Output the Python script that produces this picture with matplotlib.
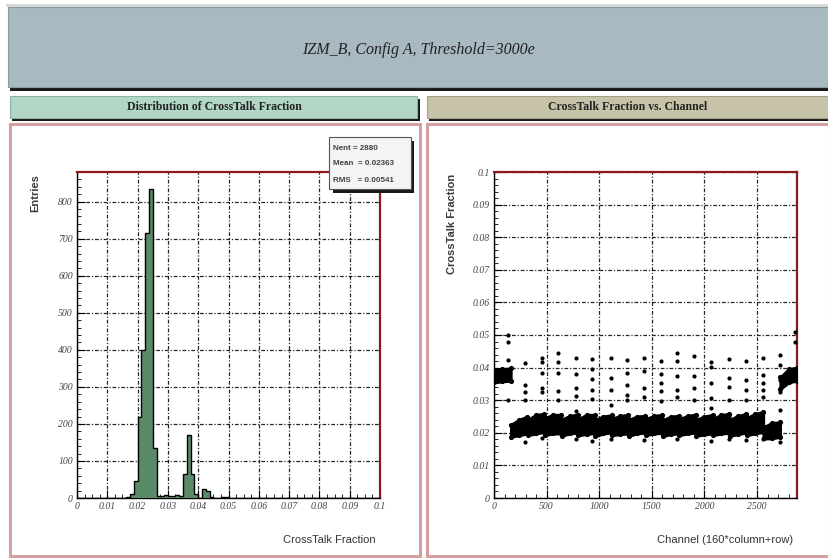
import numpy as np
import matplotlib
matplotlib.use("Agg")
from matplotlib import pyplot as plt
from matplotlib.patches import Rectangle
from matplotlib.ticker import MultipleLocator, AutoMinorLocator

# ---- data ----
title = "IZM_B, Config A, Threshold=3000e"
left_head = "Distribution of CrossTalk Fraction"
right_head = "CrossTalk Fraction vs. Channel"

# histogram: 80 bins from 0 to 0.1
hist_edges = np.linspace(0.0, 0.1, 81)
hist_counts = np.zeros(80)
hist_bins_used = [13, 14, 15, 16, 17, 18, 19, 20,
                  21, 22, 23, 24, 25, 26, 27,
                  28, 29, 30, 31, 33, 34, 35, 38, 39]
hist_bins_vals = [3, 10, 45, 220, 400, 715, 835, 135,
                  6, 5, 7, 6, 5, 7, 6,
                  65, 170, 65, 10, 25, 20, 4, 2, 2]
hist_counts[hist_bins_used] = hist_bins_vals
stats_lines = ["Nent = 2880", "Mean  = 0.02363", "RMS   = 0.00541"]

# scatter: dense band, one column = 160 channels, knots at rows 2, 80, 158
band_cols = list(range(18))
band_rows = [2, 80, 158]
band_lo = [0.0355, 0.0358, 0.0360,   # col 0
           0.0188, 0.0193, 0.0198,   # col 1
           0.0193, 0.0198, 0.0203,
           0.0193, 0.0198, 0.0198,
           0.0191, 0.0198, 0.0201,
           0.0193, 0.0196, 0.0200,   # col 5
           0.0190, 0.0198, 0.0201,
           0.0193, 0.0196, 0.0198,
           0.0191, 0.0198, 0.0201,
           0.0193, 0.0198, 0.0200,
           0.0190, 0.0196, 0.0198,   # col 10
           0.0193, 0.0198, 0.0201,
           0.0191, 0.0195, 0.0198,
           0.0193, 0.0198, 0.0200,
           0.0191, 0.0196, 0.0201,
           0.0193, 0.0198, 0.0203,   # col 15
           0.0183, 0.0183, 0.0188,   # col 16
           0.0335, 0.0355, 0.0360]   # col 17
band_hi = [0.0392, 0.0395, 0.0398,   # col 0
           0.0225, 0.0240, 0.0250,   # col 1
           0.0240, 0.0255, 0.0258,
           0.0245, 0.0255, 0.0255,
           0.0240, 0.0252, 0.0256,
           0.0242, 0.0255, 0.0255,   # col 5
           0.0240, 0.0250, 0.0254,
           0.0243, 0.0252, 0.0255,
           0.0240, 0.0250, 0.0252,
           0.0242, 0.0252, 0.0255,
           0.0238, 0.0250, 0.0252,   # col 10
           0.0242, 0.0252, 0.0256,
           0.0240, 0.0250, 0.0255,
           0.0243, 0.0255, 0.0258,
           0.0240, 0.0252, 0.0258,
           0.0245, 0.0258, 0.0264,   # col 15
           0.0217, 0.0230, 0.0232,   # col 16
           0.0370, 0.0395, 0.0400]   # col 17

# isolated points (channel, fraction)
out_ch = [134, 134, 134, 134,
          297, 297, 297, 297, 297,
          459, 459, 459, 459, 459, 459,
          613, 613, 613, 613, 613,
          775, 775, 775, 775, 775, 775,
          929, 929, 929, 929, 929, 929,
          1110, 1110, 1110, 1110, 1110,
          1263, 1263, 1263, 1263, 1263,
          1426, 1426, 1426, 1426, 1426,
          1589, 1589, 1589, 1589, 1589,
          1742, 1742, 1742, 1742, 1742, 1742,
          1904, 1904, 1904, 1904,
          2063, 2063, 2063, 2063, 2063, 2063,
          2229, 2229, 2229, 2229, 2229,
          2396, 2396, 2396, 2396, 2396,
          2553, 2553, 2553, 2553, 2553, 2553,
          2717, 2717, 2717, 2717, 2717, 2717,
          2865, 2865]
out_val = [0.050, 0.048, 0.0423, 0.030,
           0.0414, 0.0347, 0.0325, 0.030, 0.0173,
           0.043, 0.0418, 0.0383, 0.0337, 0.0325, 0.0185,
           0.0445, 0.0418, 0.0383, 0.0327, 0.030,
           0.043, 0.038, 0.0337, 0.0313, 0.0267, 0.018,
           0.0425, 0.0395, 0.0365, 0.033, 0.0305, 0.0175,
           0.043, 0.0368, 0.0332, 0.0286, 0.018,
           0.0423, 0.0383, 0.0347, 0.0316, 0.030,
           0.043, 0.039, 0.0337, 0.031, 0.0178,
           0.042, 0.038, 0.0352, 0.0327, 0.0298,
           0.0446, 0.042, 0.0373, 0.033, 0.031, 0.018,
           0.0435, 0.0373, 0.0337, 0.030,
           0.0418, 0.0403, 0.0352, 0.0306, 0.0276, 0.0175,
           0.0426, 0.0368, 0.0341, 0.030, 0.018,
           0.042, 0.0362, 0.0331, 0.030, 0.0178,
           0.043, 0.0377, 0.0352, 0.0331, 0.031, 0.018,
           0.0438, 0.0408, 0.0362, 0.0326, 0.027, 0.0173,
           0.051, 0.048]

# ---- figure ----
W, H = 829, 559
fig = plt.figure(figsize=(W / 100, H / 100), dpi=100)
fig.patch.set_facecolor("white")

serif = "Liberation Serif"
sans = "Liberation Sans"


def box(x0, y0, x1, y1, **kw):
    # pixel rectangle (top-left origin) -> figure coords
    r = Rectangle((x0 / W, 1 - y1 / H), (x1 - x0) / W, (y1 - y0) / H,
                  transform=fig.transFigure, **kw)
    fig.patches.append(r)
    return r


# title box with shadow
box(6, 4, 829, 7, facecolor="#d8d8d8", edgecolor="none")
box(10, 11, 829, 91, facecolor="#1a1a1a", edgecolor="none")
box(8, 7, 829, 87, facecolor="#a9b9c1", edgecolor="#8a9aa2", lw=0.8)
fig.text(418 / W, 1 - 50 / H, title, ha="center", va="center",
         fontsize=11.5, family=serif, style="italic", color="#222222")

# sub headers
box(12, 99, 420, 121, facecolor="#1a1a1a", edgecolor="none")
box(10, 96, 417, 118, facecolor="#b3d7c7", edgecolor="#8fb3a3", lw=0.8)
box(429, 99, 829, 121, facecolor="#1a1a1a", edgecolor="none")
box(427, 96, 829, 118, facecolor="#c6c3a9", edgecolor="#a3a088", lw=0.8)
fig.text(214 / W, 1 - 107 / H, left_head, ha="center", va="center",
         fontsize=8.5, family=serif, weight="bold", color="#222222")
fig.text(628 / W, 1 - 107 / H, right_head, ha="center", va="center",
         fontsize=8.5, family=serif, weight="bold", color="#222222")

# panel borders
box(10, 124, 420, 556, facecolor="white", edgecolor="#d5a0a0", lw=2.2, zorder=-1)
box(427, 124, 829, 556, facecolor="white", edgecolor="#d5a0a0", lw=2.2, zorder=-1)


def style_axes(ax):
    ax.set_facecolor("white")
    ax.grid(True, which="major", color="black", lw=0.9,
            linestyle=(0, (3, 1.5, 1, 1.5)), alpha=0.85)
    ax.tick_params(which="both", direction="in", top=False, right=False,
                   labelsize=7, pad=3, color="black")
    ax.tick_params(which="major", length=6, width=0.8)
    ax.tick_params(which="minor", length=3, width=0.6)
    for lab in ax.get_xticklabels() + ax.get_yticklabels():
        lab.set_family(serif)
        lab.set_style("italic")
        lab.set_color("#444444")
    for s in ["top", "right"]:
        ax.spines[s].set_color("#8b1a1a")
        ax.spines[s].set_linewidth(1.6)
    for s in ["left", "bottom"]:
        ax.spines[s].set_color("black")
        ax.spines[s].set_linewidth(1.0)
    ax.set_axisbelow(True)


# left: histogram
ax1 = fig.add_axes([77 / W, 1 - 498 / H, 303 / W, 326 / H])
ax1.stairs(hist_counts, hist_edges, fill=True, facecolor="#5a8a68",
           edgecolor="none", zorder=3)
ax1.stairs(hist_counts, hist_edges, fill=False, color="black", lw=1.0, zorder=4)
ax1.set_xlim(0, 0.1)
ax1.set_ylim(0, 880)
ax1.xaxis.set_major_locator(MultipleLocator(0.01))
ax1.xaxis.set_minor_locator(AutoMinorLocator(4))
ax1.yaxis.set_major_locator(MultipleLocator(100))
ax1.yaxis.set_minor_locator(AutoMinorLocator(5))
ax1.set_xticks(np.arange(0, 0.1001, 0.01))
ax1.set_xticklabels(["0", "0.01", "0.02", "0.03", "0.04", "0.05", "0.06",
                     "0.07", "0.08", "0.09", "0.1"])
style_axes(ax1)
fig.text(35 / W, 1 - 174 / H, "Entries", rotation=90, ha="center", va="top",
         fontsize=8, family=sans, weight="bold", color="#3a3a3a")
fig.text(376 / W, 1 - 540 / H, "CrossTalk Fraction", ha="right", va="center",
         fontsize=8, family=sans, color="#333333")

# stats box
box(333, 141, 414, 193, facecolor="#1a1a1a", edgecolor="none", zorder=10)
box(329, 137, 411, 189, facecolor="#f4f4f4", edgecolor="#555555", lw=0.8, zorder=11)
for i, line in enumerate(stats_lines):
    fig.text(333 / W, 1 - (148 + i * 16) / H, line, ha="left", va="center",
             fontsize=5.8, family=sans, weight="bold", color="#444444", zorder=12)

# right: crosstalk vs channel
ax2 = fig.add_axes([494 / W, 1 - 498 / H, 303 / W, 326 / H])
band_x = [c * 160 + r for c in band_cols for r in band_rows]
for c in band_cols:
    sl = slice(3 * c, 3 * c + 3)
    ax2.fill_between(band_x[sl], band_lo[sl], band_hi[sl], color="black",
                     lw=2.2, edgecolor="black", zorder=3)
ax2.scatter(band_x, band_lo, s=14, color="black", lw=0, zorder=3)
ax2.scatter(band_x, band_hi, s=14, color="black", lw=0, zorder=3)
ax2.scatter(out_ch, out_val, s=9, color="black", marker="o", lw=0, zorder=4)
ax2.set_xlim(0, 2880)
ax2.set_ylim(0, 0.1)
ax2.xaxis.set_major_locator(MultipleLocator(500))
ax2.xaxis.set_minor_locator(AutoMinorLocator(5))
ax2.yaxis.set_major_locator(MultipleLocator(0.01))
ax2.yaxis.set_minor_locator(AutoMinorLocator(5))
ax2.set_yticks(np.arange(0, 0.1001, 0.01))
ax2.set_yticklabels(["0", "0.01", "0.02", "0.03", "0.04", "0.05", "0.06",
                     "0.07", "0.08", "0.09", "0.1"])
style_axes(ax2)
fig.text(452 / W, 1 - 174 / H, "CrossTalk Fraction", rotation=90, ha="center",
         va="top", fontsize=8, family=sans, weight="bold", color="#3a3a3a")
fig.text(793 / W, 1 - 540 / H, "Channel (160*column+row)", ha="right",
         va="center", fontsize=8, family=sans, color="#333333")

fig.savefig("out.png", dpi=100, facecolor="white")
